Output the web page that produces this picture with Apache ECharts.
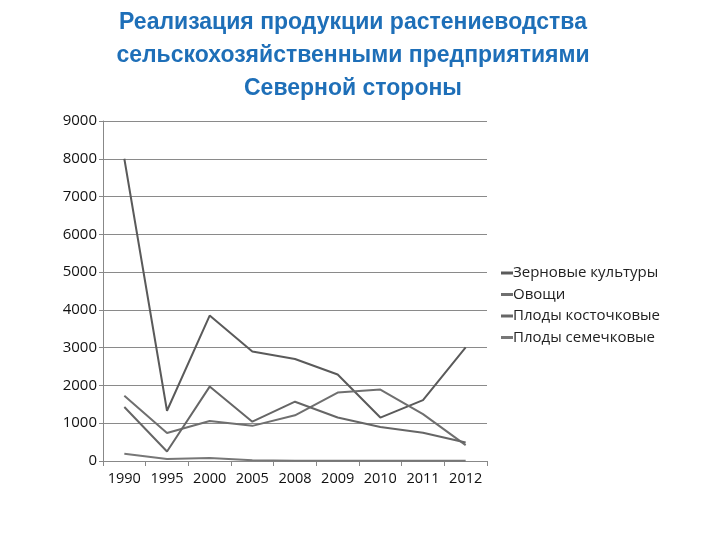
<!DOCTYPE html>
<html><head><meta charset="utf-8">
<script src="https://cdn.jsdelivr.net/npm/echarts@6/dist/echarts.min.js"></script>
<style>html,body{margin:0;padding:0;background:#fff}#c{width:720px;height:540px}</style>
</head><body><div id="c"></div>
<script>
const years = ['1990','1995','2000','2005','2008','2009','2010','2011','2012'];
const seriesNames = ['Зерновые культуры','Овощи','Плоды косточковые','Плоды семечковые'];
const grain = [8000,1330,3850,2900,2700,2290,1150,1610,3010];
const vegetables = [1730,740,1060,930,1210,1810,1890,1240,420];
const stoneFruit = [1430,250,1970,1040,1570,1150,900,750,490];
const pomeFruit = [195,50,80,20,5,5,5,5,5];
const yTicks = {min:0, max:9000, interval:1000};
const titleLines = ['Реализация продукции растениеводства','сельскохозяйственными предприятиями','Северной стороны'];

const colors = ['#5a5a5a','#6f6f6f','#666666','#777777'];
const data = [grain, vegetables, stoneFruit, pomeFruit];
const chart = echarts.init(document.getElementById('c'));
chart.setOption({
  animation:false,
  title:{text:titleLines.join('\n'), left:348, top:1, textAlign:'center',
    textStyle:{color:'#1e6fb8', fontFamily:'Liberation Sans', fontWeight:'bold', fontSize:23, lineHeight:33}},
  legend:{orient:'vertical', left:496, top:259, itemWidth:12, itemHeight:3, itemGap:3.5,
    icon:'rect', textStyle:{fontFamily:'Open Sans', fontSize:15, lineHeight:18, color:'#222', padding:[0,0,0,-5]},
    data:seriesNames},
  grid:{left:103, right:233, top:121, bottom:79},
  xAxis:{type:'category', data:years, boundaryGap:true,
    axisLine:{lineStyle:{color:'#888', width:1}},
    axisTick:{show:true, length:5, lineStyle:{color:'#888'}},
    axisLabel:{color:'#111', fontFamily:'Open Sans', fontSize:14.5, margin:10, interval:0, hideOverlap:false}},
  yAxis:{type:'value', min:yTicks.min, max:yTicks.max, interval:yTicks.interval,
    axisLine:{show:true, lineStyle:{color:'#888'}},
    axisTick:{show:true, length:4, lineStyle:{color:'#888'}},
    splitLine:{lineStyle:{color:'#8a8a8a', width:1}},
    axisLabel:{color:'#111', fontFamily:'Open Sans', fontSize:15, margin:6, formatter:v=>String(v)}},
  series: seriesNames.map((n,i)=>({name:n, type:'line', data:data[i], symbol:'none',
    lineStyle:{color:colors[i], width:2}, itemStyle:{color:colors[i]}}))
});
</script></body></html>
